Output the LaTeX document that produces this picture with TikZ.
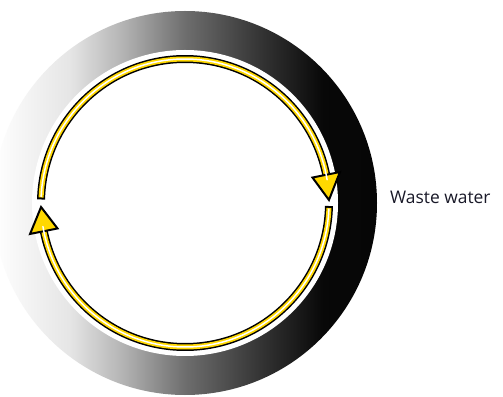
\documentclass[tikz,border=0pt]{standalone}
\usepackage{fontspec}
\setmainfont{Open Sans}
\usetikzlibrary{calc}
\pgfdeclarehorizontalshading{ringshade}{100bp}{color(0bp)=(white); color(25bp)=(white); color(28bp)=(white!97!black); color(35bp)=(white!90!black); color(42bp)=(white!70!black); color(50bp)=(white!43!black); color(60bp)=(white!20!black); color(68bp)=(white!3!black); color(100bp)=(black)}
\definecolor{arrowyellow}{RGB}{255,216,0}
\definecolor{textcol}{RGB}{25,25,40}
\tikzset{
  shaftouter/.style={draw=black, line width=8pt, line cap=butt},
  shaftmid/.style={draw=arrowyellow, line width=5pt, line cap=butt},
  shaftcore/.style={draw=white, line width=1.5pt, line cap=round},
  headtri/.style={fill=arrowyellow, draw=black, line width=2pt, line join=miter},
  labeltext/.style={text=textcol, inner sep=0pt, font=\fontsize{17.4}{20}\selectfont}
}
\begin{document}
\begin{tikzpicture}[x=1pt,y=1pt]
\useasboundingbox (0,0) rectangle (503,396);
\clip (0,0) rectangle (503,396);
\fill[white] (0,0) rectangle (503,396);
\coordinate (C) at (185,193);
% ring
\shade[shading=ringshade] (C) circle[radius=192];
\fill[white] (C) circle[radius=153];
% upper arc (left -> right, clockwise)
\draw[shaftouter] ($(C)+(178.6:144)$) arc[start angle=178.6, end angle=11, radius=144];
\draw[shaftmid] ($(C)+(177.8:144)$) arc[start angle=177.8, end angle=11, radius=144];
\filldraw[headtri] ($(C)+(11.3:158)$) -- ($(C)+(1.2:144)$) -- ($(C)+(11.3:130)$) -- cycle;
\draw[shaftcore] ($(C)+(177.4:144)$) arc[start angle=177.4, end angle=9.3, radius=144];
% lower arc (right -> left, clockwise)
\draw[shaftouter] ($(C)+(-1.2:144)$) arc[start angle=-1.2, end angle=-168.5, radius=144];
\draw[shaftmid] ($(C)+(-2:144)$) arc[start angle=-2, end angle=-168.5, radius=144];
\filldraw[headtri] ($(C)+(-168.7:158)$) -- ($(C)+(-178.4:144)$) -- ($(C)+(-168.7:130)$) -- cycle;
\draw[shaftcore] ($(C)+(-2.4:144)$) arc[start angle=-2.4, end angle=-170.6, radius=144];
% label
\node[labeltext, anchor=base west] (waste) at (390,192) {Waste water};
\end{tikzpicture}
\end{document}
